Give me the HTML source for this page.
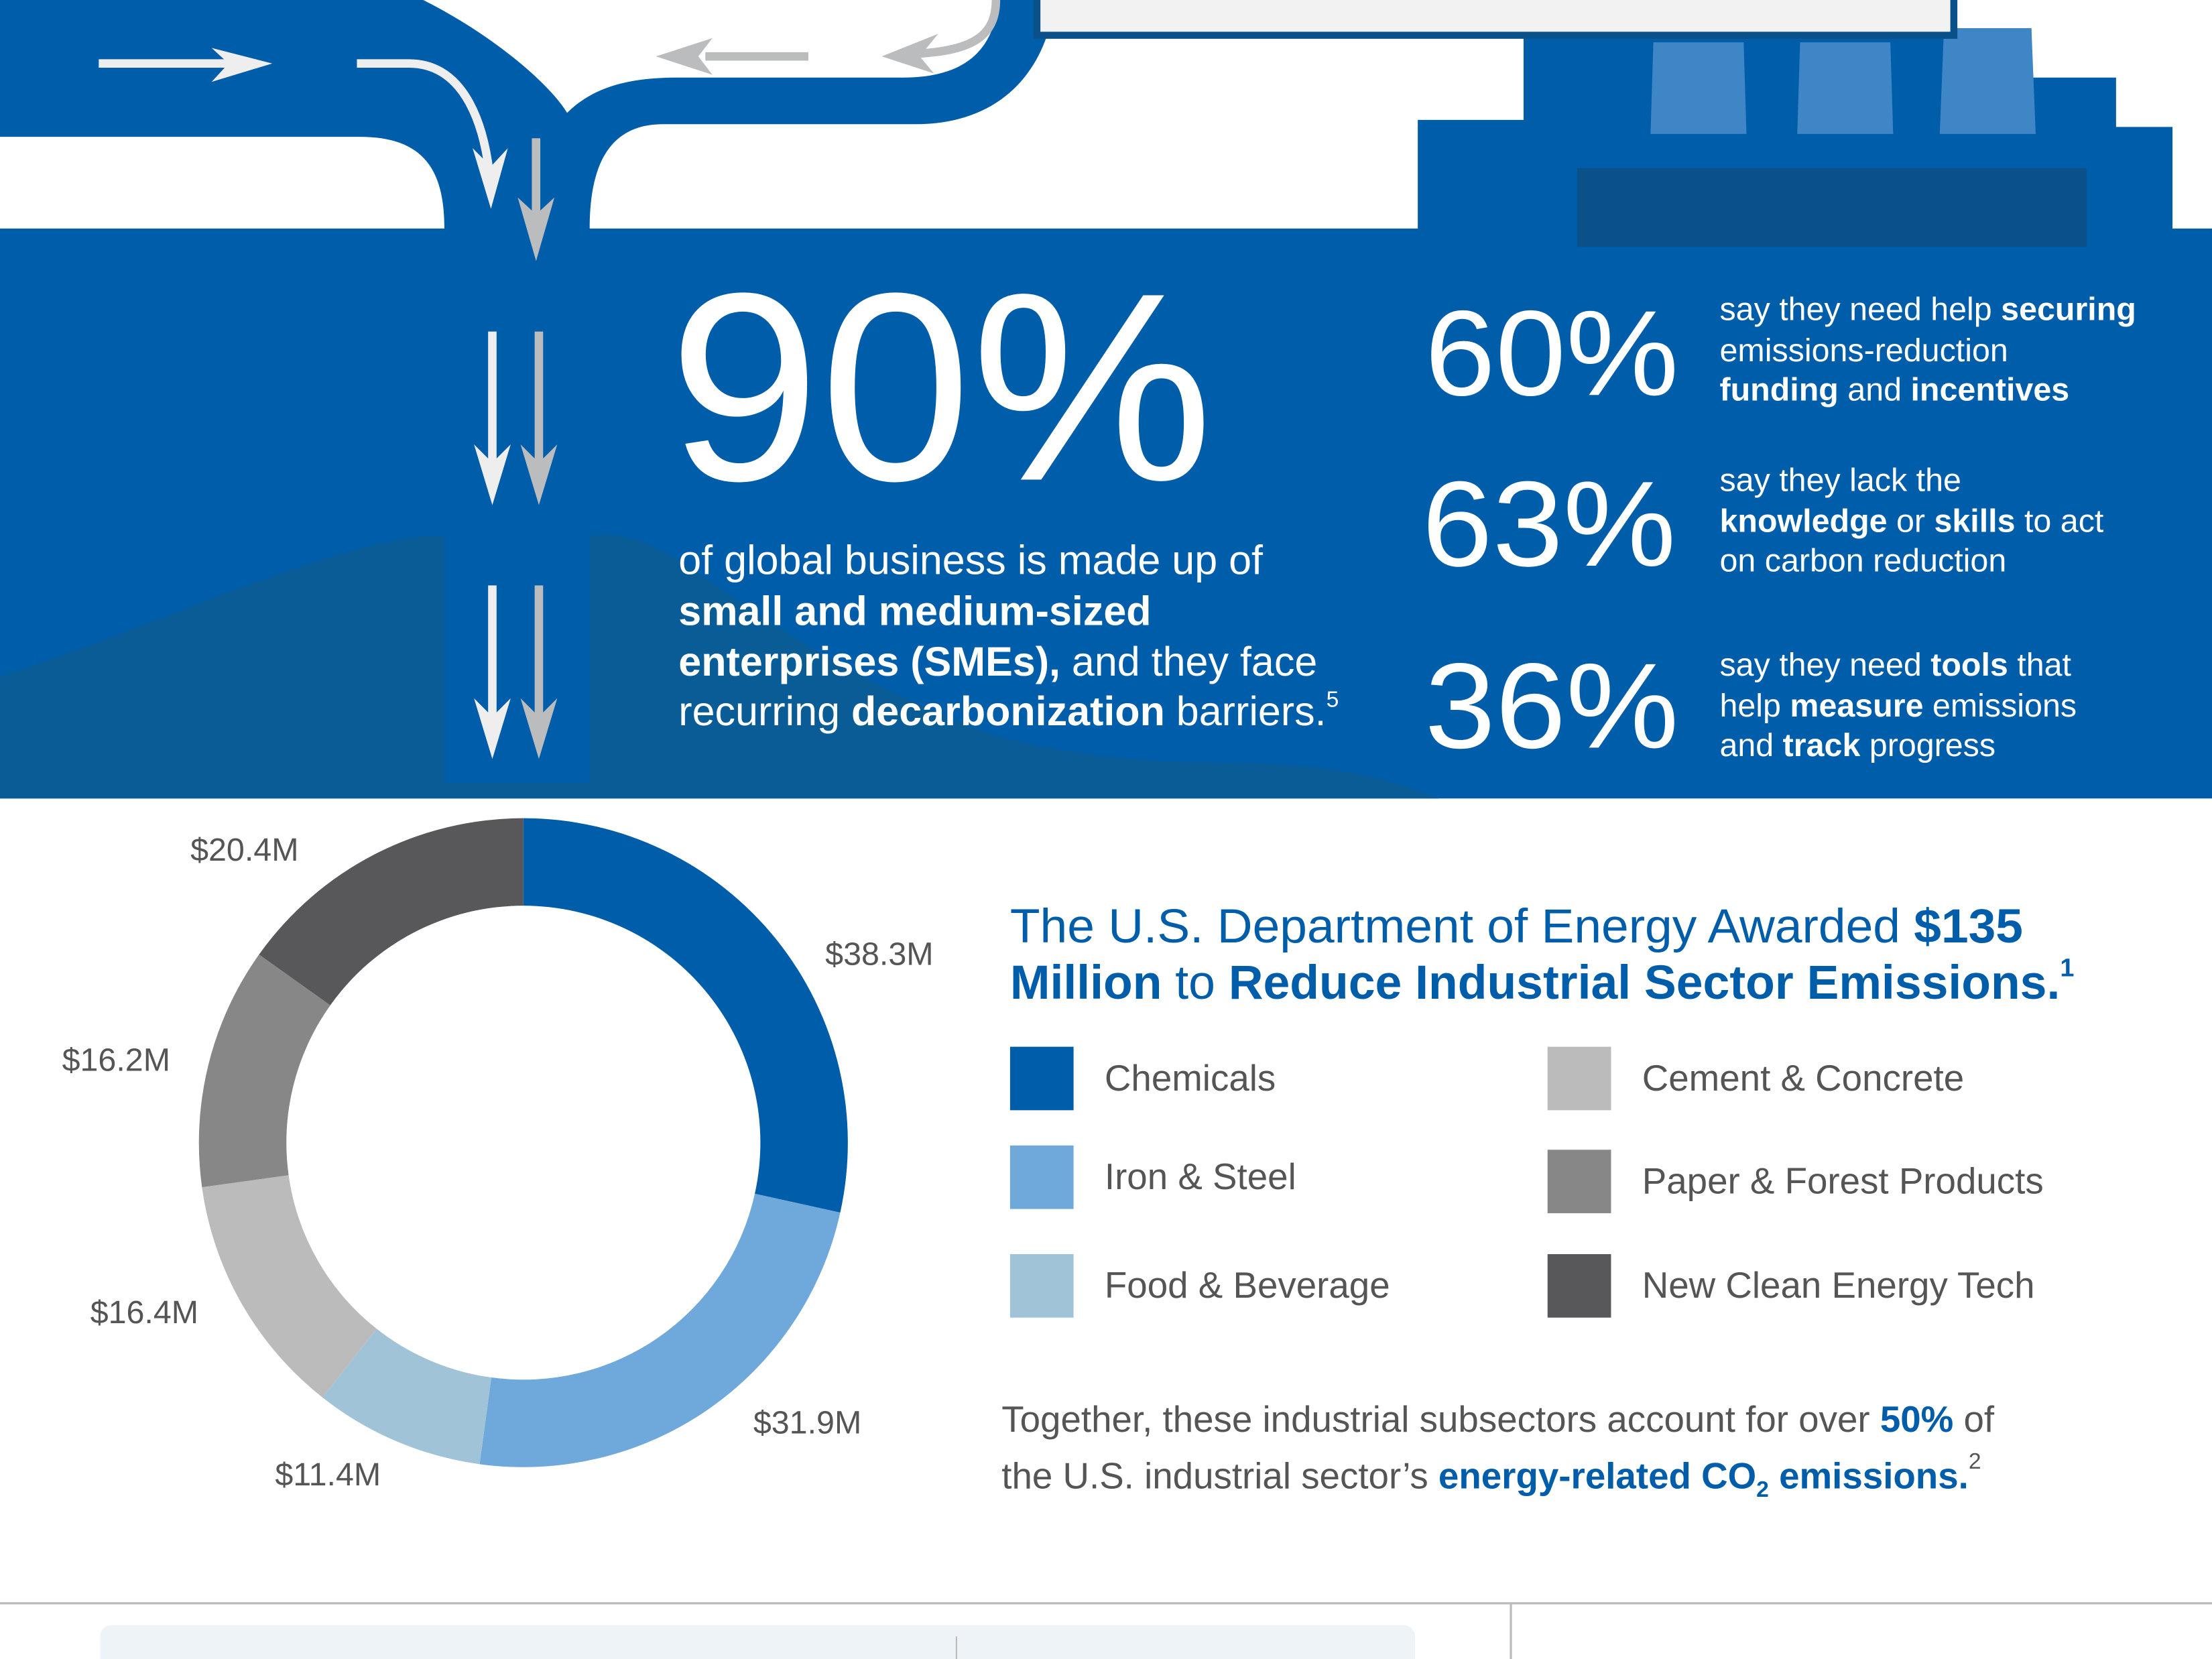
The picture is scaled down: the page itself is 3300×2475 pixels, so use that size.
<!DOCTYPE html>
<html><head><meta charset="utf-8"><style>
html,body{margin:0;padding:0;background:#fff;}
svg{display:block;}
text{font-family:"Liberation Sans",sans-serif;}
</style></head><body>
<svg id="root" width="3300" height="2475" viewBox="0 0 1568 1176" xmlns="http://www.w3.org/2000/svg">
<rect width="1568" height="1176" fill="#fff"/>
<g>
  <rect x="0" y="162" width="1568" height="404" fill="#005DAA"/>
  <path d="M0,0 L300,0 C350,25 390,60 402,80 C420,62 445,55 480,55 L640,55 C690,55 705,30 708,0 L748,0 C740,60 700,88 650,88 L470,88 C430,88 418,120 418,162 L315,162 C315,120 300,97 255,97 L0,97 Z" fill="#005DAA"/>
  <path d="M0,480 C120,440 220,390 300,380 L420,380 C480,370 520,450 700,520 C850,560 900,520 1020,566 L0,566 Z" fill="#0A5C96"/>
  <rect x="315" y="380" width="103" height="175" fill="#005DAA"/>
  <path d="M1005,162 L1005,85 L1080,85 L1080,20 L1440,20 L1440,55 L1500,55 L1500,90 L1540,90 L1540,162 Z" fill="#005DAA"/>
  <polygon points="1172,30 1236,30 1238,95 1170,95" fill="#3E86C6"/>
  <polygon points="1276,30 1340,30 1342,95 1274,95" fill="#3E86C6"/>
  <polygon points="1378,20 1440,20 1443,95 1375,95" fill="#3E86C6"/>
  <rect x="1118" y="119" width="361" height="56" fill="#0A5189"/>
  <rect x="735" y="-10" width="650" height="35" fill="#F2F2F2" stroke="#0A5189" stroke-width="5"/>
  <g stroke="#EEEEEE" stroke-width="6" fill="none">
    <line x1="70" y1="45" x2="180" y2="45"/>
    <path d="M253,45 L290,45 C330,45 345,90 348,135"/>
    <line x1="349" y1="235" x2="349" y2="345"/>
    <line x1="349" y1="415" x2="349" y2="525"/>
  </g>
  <g fill="#EEEEEE">
    <polygon points="150,34 193,45 150,58 162,45"/>
    <polygon points="335,105 348,148 360,105 348,118"/>
    <polygon points="336,315 349,358 362,315 349,328"/>
    <polygon points="336,495 349,538 362,495 349,508"/>
  </g>
  <g stroke="#BBBCBE" stroke-width="6" fill="none">
    <line x1="500" y1="40" x2="573" y2="40"/>
    <path d="M706,0 C706,25 690,36 650,38"/>
    <line x1="380" y1="98" x2="380" y2="160"/>
    <line x1="382" y1="235" x2="382" y2="345"/>
    <line x1="382" y1="415" x2="382" y2="525"/>
  </g>
  <g fill="#BBBCBE">
    <polygon points="505,27 465,40 505,53 495,40"/>
    <polygon points="665,24 625,40 662,52 652,40"/>
    <polygon points="367,140 380,185 393,140 380,152"/>
    <polygon points="369,315 382,358 395,315 382,328"/>
    <polygon points="369,495 382,538 395,495 382,508"/>
  </g>
</g>
<g fill="#fff">
  <text x="474" y="340" font-size="190" textLength="386" lengthAdjust="spacingAndGlyphs">90%</text>
  <g font-size="29">
    <text x="481" y="407">of global business is made up of</text>
    <text x="481" y="443" font-weight="bold">small and medium-sized</text>
    <text x="481" y="479"><tspan font-weight="bold">enterprises (SMEs),</tspan> and they face</text>
    <text x="481" y="514">recurring <tspan font-weight="bold">decarbonization</tspan> barriers.<tspan font-size="16" dy="-13">5</tspan></text>
  </g>
  <g font-size="86">
    <text x="1010" y="280" textLength="180" lengthAdjust="spacingAndGlyphs">60%</text>
    <text x="1008" y="401" textLength="180" lengthAdjust="spacingAndGlyphs">63%</text>
    <text x="1010" y="530" textLength="180" lengthAdjust="spacingAndGlyphs">36%</text>
  </g>
  <g font-size="23">
    <text x="1219" y="227">say they need help <tspan font-weight="bold">securing</tspan></text>
    <text x="1219" y="256">emissions-reduction</text>
    <text x="1219" y="284"><tspan font-weight="bold">funding</tspan> and <tspan font-weight="bold">incentives</tspan></text>
    <text x="1219" y="348">say they lack the</text>
    <text x="1219" y="377"><tspan font-weight="bold">knowledge</tspan> or <tspan font-weight="bold">skills</tspan> to act</text>
    <text x="1219" y="405">on carbon reduction</text>
    <text x="1219" y="479">say they need <tspan font-weight="bold">tools</tspan> that</text>
    <text x="1219" y="508">help <tspan font-weight="bold">measure</tspan> emissions</text>
    <text x="1219" y="536">and <tspan font-weight="bold">track</tspan> progress</text>
  </g>
</g>
<g id="donut"></g>
<g fill="#005DAA" font-size="34">
  <text x="716" y="668" textLength="718" lengthAdjust="spacingAndGlyphs">The U.S. Department of Energy Awarded <tspan font-weight="bold">$135</tspan></text>
  <text x="716" y="708"><tspan font-weight="bold">Million</tspan> to <tspan font-weight="bold">Reduce Industrial Sector Emissions.</tspan><tspan font-size="18" dy="-16" font-weight="bold">1</tspan></text>
</g>
<g id="legend"></g>
<g font-size="26" fill="#555">
  <text x="710" y="1015">Together, these industrial subsectors account for over <tspan fill="#005DAA" font-weight="bold">50%</tspan> of</text>
  <text x="710" y="1055">the U.S. industrial sector’s <tspan fill="#005DAA" font-weight="bold">energy-related CO<tspan font-size="16" dy="6">2</tspan><tspan dy="-6"> emissions.</tspan></tspan><tspan font-size="16" dy="-14">2</tspan></text>
</g>
<g>
  <line x1="0" y1="1136.5" x2="1568" y2="1136.5" stroke="#BBBBBB" stroke-width="1.5"/>
  <line x1="1071" y1="1136" x2="1071" y2="1176" stroke="#BBBBBB" stroke-width="1.5"/>
  <rect x="71" y="1152" width="932" height="40" rx="8" fill="#EEF3F8"/>
  <line x1="678" y1="1160" x2="678" y2="1176" stroke="#BBBBBB" stroke-width="1"/>
</g>
</svg>
<script>
const categories = ["Chemicals","Iron & Steel","Food & Beverage","Cement & Concrete","Paper & Forest Products","New Clean Energy Tech"];
const values = [38.3,31.9,11.4,16.4,16.2,20.4];
const valueLabels = ["$38.3M","$31.9M","$11.4M","$16.4M","$16.2M","$20.4M"];
const colors = ["#005DAA","#6FA8DA","#A0C3D8","#BBBBBB","#878787","#58585A"];
const NS="http://www.w3.org/2000/svg";
const cx=371, cy=810, R=230, r=168;
const labelPos=[[585,684],[534,1016],[195,1053],[64,938],[44,759],[135,610]];
const total=values.reduce((a,b)=>a+b,0);
function pt(a,rad){return [cx+rad*Math.sin(a), cy-rad*Math.cos(a)];}
const donut=document.getElementById('donut');
let acc=0;
values.forEach((v,i)=>{
  const a0=acc/total*2*Math.PI, a1=(acc+v)/total*2*Math.PI; acc+=v;
  const large=(a1-a0)>Math.PI?1:0;
  const [x0,y0]=pt(a0,R),[x1,y1]=pt(a1,R),[x2,y2]=pt(a1,r),[x3,y3]=pt(a0,r);
  const p=document.createElementNS(NS,'path');
  p.setAttribute('d',`M${x0},${y0} A${R},${R} 0 ${large} 1 ${x1},${y1} L${x2},${y2} A${r},${r} 0 ${large} 0 ${x3},${y3} Z`);
  p.setAttribute('fill',colors[i]);
  
  
  donut.appendChild(p);
  const t=document.createElementNS(NS,'text');
  t.setAttribute('x',labelPos[i][0]); t.setAttribute('y',labelPos[i][1]);
  t.setAttribute('font-size','23'); t.setAttribute('fill','#555');
  t.textContent=valueLabels[i];
  
  
  donut.appendChild(t);
});
const legend=document.getElementById('legend');
const lpos=[[716,742],[716,812],[716,889],[1097,742],[1097,815],[1097,889]];
categories.forEach((c,i)=>{
  const [x,y]=lpos[i];
  const s=document.createElementNS(NS,'rect');
  s.setAttribute('x',x); s.setAttribute('y',y); s.setAttribute('width',45); s.setAttribute('height',45);
  s.setAttribute('fill',colors[i]);
  
  
  legend.appendChild(s);
  const t=document.createElementNS(NS,'text');
  t.setAttribute('x',x+67); t.setAttribute('y',y+31);
  t.setAttribute('font-size','26'); t.setAttribute('fill','#555');
  t.textContent=c;
  
  
  legend.appendChild(t);
});
</script>
</body></html>
